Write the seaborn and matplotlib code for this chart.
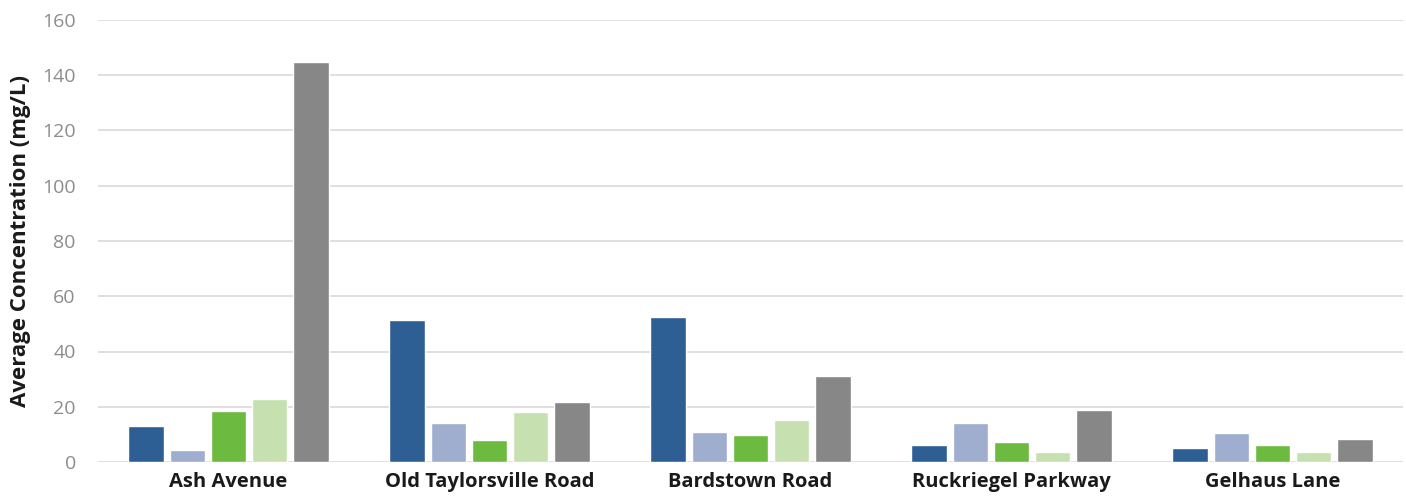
import matplotlib
matplotlib.use('Agg')
import matplotlib.pyplot as plt
import seaborn as sns
import pandas as pd

# Values (mg/L)
sites = ['Ash Avenue', 'Old Taylorsville Road', 'Bardstown Road',
         'Ruckriegel Parkway', 'Gelhaus Lane']
series = ['Series 1', 'Series 2', 'Series 3', 'Series 4', 'Series 5']
series_1 = [13, 51.5, 52.6, 6, 5]
series_2 = [4.2, 14, 11, 14, 10.4]
series_3 = [18.5, 8, 9.8, 7.1, 6]
series_4 = [22.7, 18, 15.3, 3.5, 3.5]
series_5 = [144.8, 21.8, 31.3, 18.9, 8.5]
colors = ['#2D5F94', '#9FADCF', '#6DBA40', '#C6E0AF', '#878787']

rows = []
for name, vals in zip(series, [series_1, series_2, series_3, series_4, series_5]):
    for site, v in zip(sites, vals):
        rows.append({'Site': site, 'Series': name, 'Value': v})
df = pd.DataFrame(rows)

sns.set_theme(style='white')
plt.rcParams['font.family'] = ['Open Sans', 'DejaVu Sans']

fig = plt.figure(figsize=(14.06, 4.97), dpi=100)
ax = fig.add_axes([98 / 1406, 1 - 462 / 497, (1403 - 98) / 1406, (462 - 20) / 497])

sns.barplot(data=df, x='Site', y='Value', hue='Series', order=sites,
            hue_order=series, palette=colors, width=0.79, gap=0.15,
            saturation=1, legend=False, ax=ax, zorder=3)

ax.set_ylim(0, 160)
ax.set_yticks(range(0, 161, 20))
ax.yaxis.grid(True, color='#D9D9D9', linewidth=1.2, zorder=0)
ax.set_axisbelow(True)
for s in ax.spines.values():
    s.set_visible(False)
ax.tick_params(axis='y', length=0, pad=16, labelsize=14, labelcolor='#8C8C8C')
ax.tick_params(axis='x', length=0, pad=7, labelsize=14.5, labelcolor='#1A1A1A')
for lbl in ax.get_xticklabels():
    lbl.set_fontweight('bold')
ax.set_xlabel('')
ax.set_ylabel('Average Concentration (mg/L)', fontsize=16, fontweight='bold',
              color='#1A1A1A', labelpad=8)

fig.savefig('out.png', dpi=100)
